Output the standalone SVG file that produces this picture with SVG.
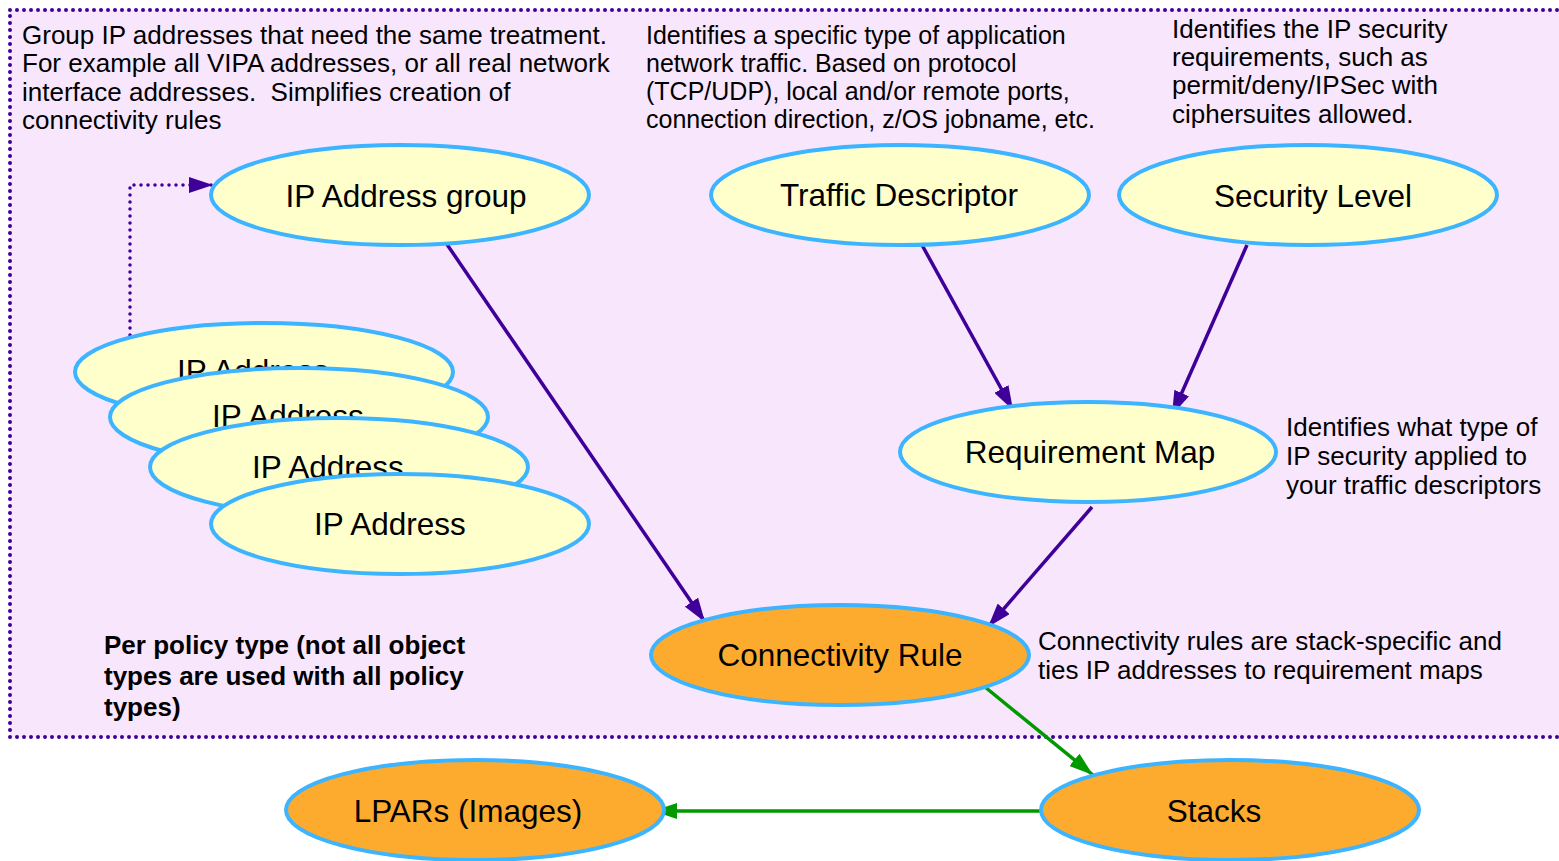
<svg xmlns="http://www.w3.org/2000/svg" width="1559" height="861" viewBox="0 0 1559 861">
<defs>
<marker id="apu" viewBox="0 0 10 10" refX="10" refY="5" markerWidth="24" markerHeight="16" markerUnits="userSpaceOnUse" orient="auto" preserveAspectRatio="none"><path d="M0,0 L10,5 L0,10 z" fill="#3f0099"/></marker>
<marker id="ag" viewBox="0 0 10 10" refX="10" refY="5" markerWidth="24" markerHeight="16" markerUnits="userSpaceOnUse" orient="auto" preserveAspectRatio="none"><path d="M0,0 L10,5 L0,10 z" fill="#009900"/></marker>
<style>
.y{fill:#ffffcc;stroke:#3cb4ff;stroke-width:4}
.o{fill:#fdab2f;stroke:#3cb4ff;stroke-width:4}
.lbl{font-family:"Liberation Sans",Arial,sans-serif;font-size:31.5px;fill:#000;text-anchor:middle}
.note{font-family:"Liberation Sans",Arial,sans-serif;font-size:26px;fill:#000;white-space:pre}
.note2{font-family:"Liberation Sans",Arial,sans-serif;font-size:25px;fill:#000}
.bold{font-family:"Liberation Sans",Arial,sans-serif;font-size:26px;font-weight:bold;fill:#000}
.pl{stroke:#3f0099;stroke-width:3.5;fill:none}
.gl{stroke:#009900;stroke-width:3.5;fill:none}
</style>
</defs>
<rect width="1559" height="861" fill="#ffffff"/>
<g id="policy-box">
<rect x="10" y="10" width="1600" height="727" fill="#f8e6fc" stroke="#3f0099" stroke-width="4" stroke-dasharray="0 7" stroke-linecap="round"/>
</g>
<g id="notes">
<text class="note" x="22" y="44">Group IP addresses that need the same treatment.</text>
<text class="note" x="22" y="72">For example all VIPA addresses, or all real network</text>
<text class="note" x="22" y="101" xml:space="preserve">interface addresses.  Simplifies creation of</text>
<text class="note" x="22" y="129">connectivity rules</text>
<text class="note2" x="646" y="44">Identifies a specific type of application</text>
<text class="note2" x="646" y="72">network traffic. Based on protocol</text>
<text class="note2" x="646" y="100">(TCP/UDP), local and/or remote ports,</text>
<text class="note2" x="646" y="128">connection direction, z/OS jobname, etc.</text>
<text class="note" x="1172" y="38">Identifies the IP security</text>
<text class="note" x="1172" y="66">requirements, such as</text>
<text class="note" x="1172" y="94">permit/deny/IPSec with</text>
<text class="note" x="1172" y="123">ciphersuites allowed.</text>
<text class="note" x="1286" y="436">Identifies what type of</text>
<text class="note" x="1286" y="465">IP security applied to</text>
<text class="note" x="1286" y="494">your traffic descriptors</text>
<text class="note" x="1038" y="650">Connectivity rules are stack-specific and</text>
<text class="note" x="1038" y="679">ties IP addresses to requirement maps</text>
<text class="bold" x="104" y="654">Per policy type (not all object</text>
<text class="bold" x="104" y="685">types are used with all policy</text>
<text class="bold" x="104" y="716">types)</text>
</g>
<g id="connectors">
<path class="pl" d="M130,335 L130,185 L213,185" stroke-width="4" stroke-dasharray="0 7" stroke-linecap="round" marker-end="url(#apu)"/>
<path class="pl" d="M444,240 L705,622" marker-end="url(#apu)"/>
<path class="pl" d="M922,245 L1013,410" marker-end="url(#apu)"/>
<path class="pl" d="M1247,245 L1172,415" marker-end="url(#apu)"/>
<path class="pl" d="M1092,507 L988,627" marker-end="url(#apu)"/>
<path class="gl" d="M985,687 L1093,775" marker-end="url(#ag)"/>
<path class="gl" d="M1043,811 L653,811" marker-end="url(#ag)"/>
</g>
<g id="ip-address-1"><ellipse class="y" cx="264" cy="372" rx="189" ry="49"/><text class="lbl" x="253" y="382">IP Address</text></g>
<g id="ip-address-2"><ellipse class="y" cx="299" cy="417" rx="189" ry="49"/><text class="lbl" x="288" y="427">IP Address</text></g>
<g id="ip-address-3"><ellipse class="y" cx="339" cy="467" rx="189" ry="49"/><text class="lbl" x="328" y="478">IP Address</text></g>
<g id="ip-address-4"><ellipse class="y" cx="400" cy="524" rx="189" ry="50"/><text class="lbl" x="390" y="535">IP Address</text></g>
<g id="ip-address-group"><ellipse class="y" cx="400" cy="195" rx="189" ry="50"/><text class="lbl" x="406" y="207">IP Address group</text></g>
<g id="traffic-descriptor"><ellipse class="y" cx="900" cy="195" rx="189" ry="50"/><text class="lbl" x="899" y="206">Traffic Descriptor</text></g>
<g id="security-level"><ellipse class="y" cx="1308" cy="195" rx="189" ry="50"/><text class="lbl" x="1313" y="207">Security Level</text></g>
<g id="requirement-map"><ellipse class="y" cx="1088" cy="452" rx="188" ry="50"/><text class="lbl" x="1090" y="463">Requirement Map</text></g>
<g id="connectivity-rule"><ellipse class="o" cx="840" cy="655" rx="189" ry="50"/><text class="lbl" x="840" y="666">Connectivity Rule</text></g>
<g id="lpars"><ellipse class="o" cx="475" cy="810" rx="189" ry="50"/><text class="lbl" x="468" y="822">LPARs (Images)</text></g>
<g id="stacks"><ellipse class="o" cx="1230" cy="810" rx="189" ry="50"/><text class="lbl" x="1214" y="822">Stacks</text></g>
</svg>
